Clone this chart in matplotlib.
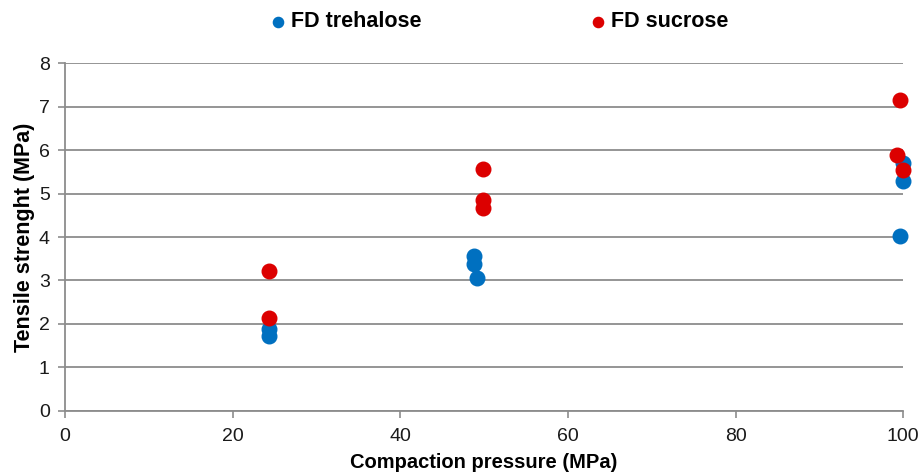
import matplotlib
matplotlib.use('Agg')
import matplotlib.pyplot as plt

plt.rcParams['font.family'] = ['Liberation Sans', 'DejaVu Sans']

# compaction pressure (MPa) and tensile strength (MPa)
treh_x = [24.3, 24.3, 48.8, 48.8, 49.2, 100.0, 100.0, 99.6]
treh_y = [1.88, 1.72, 3.56, 3.38, 3.06, 5.70, 5.28, 4.02]
sucr_x = [24.3, 24.3, 49.9, 49.9, 49.9, 99.6, 99.3, 100.0]
sucr_y = [3.22, 2.14, 5.56, 4.85, 4.67, 7.16, 5.88, 5.54]

blue = '#0070C0'
red = '#DC0000'
grey = '#8c8c8c'

fig = plt.figure(figsize=(9.21, 4.74), dpi=100)
ax = fig.add_axes([0.0706, 0.133, 0.91, 0.734])

ax.scatter(treh_x, treh_y, s=110, color=blue, zorder=3, label='FD trehalose', clip_on=False)
ax.scatter(sucr_x, sucr_y, s=110, color=red, zorder=4, label='FD sucrose', clip_on=False)

ax.set_xlim(0, 100)
ax.set_ylim(0, 8)
ax.set_xticks(range(0, 101, 20))
ax.set_yticks(range(0, 9))
ax.grid(axis='y', color=grey, linewidth=1.3)
ax.set_axisbelow(True)
for s in ['top', 'right']:
    ax.spines[s].set_visible(False)
for s in ['left', 'bottom']:
    ax.spines[s].set_color(grey)
    ax.spines[s].set_linewidth(1.3)
ax.tick_params(colors=grey, labelcolor='#1a1a1a', labelsize=14, length=5, width=1.2)
ax.tick_params(axis='x', pad=7)
ax.tick_params(axis='y', pad=6)

ax.set_xlabel('Compaction pressure (MPa)', fontsize=14.5, fontweight='bold', labelpad=6)
ax.set_ylabel('Tensile strenght (MPa)', fontsize=15.5, fontweight='bold', labelpad=3)

fig.legend(loc='center', bbox_to_anchor=(0.542, 0.954), ncol=2, frameon=False,
           prop={'size': 15.5, 'weight': 'bold'}, handlelength=0.8, handletextpad=0.2,
           columnspacing=7.8, markerscale=0.7, scatterpoints=1)

fig.savefig('out.png', dpi=100)
